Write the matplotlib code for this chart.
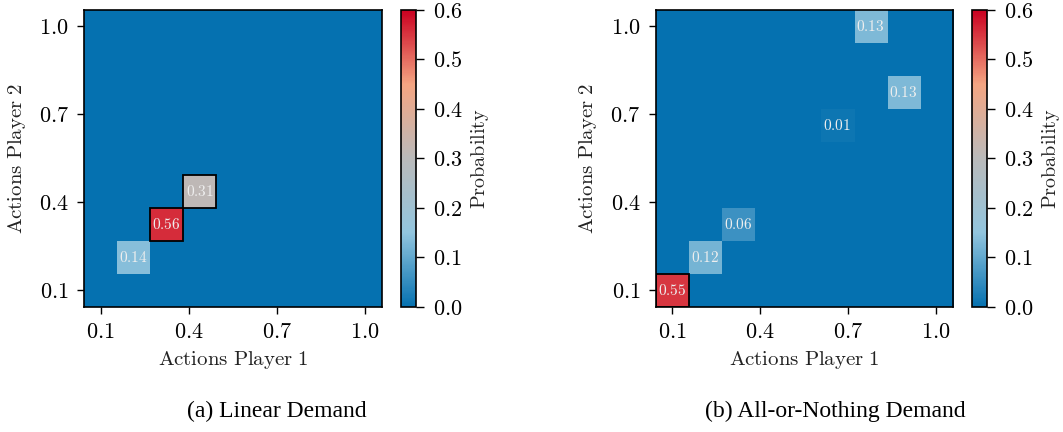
import matplotlib
matplotlib.use("Agg")
import matplotlib.pyplot as plt
import numpy as np
from matplotlib.colors import LinearSegmentedColormap
from matplotlib.patches import Rectangle

# grid of actions per player (9 levels), ticks shown at 4 positions
n_actions = 9
tick_labels = ["0.1", "0.4", "0.7", "1.0"]
cbar_ticks = [0.0, 0.1, 0.2, 0.3, 0.4, 0.5, 0.6]

# (a) linear demand: non-zero cells
lin_p1 = [1, 2, 3]
lin_p2 = [1, 2, 3]
lin_prob = [0.14, 0.56, 0.31]
lin_boxed = [False, True, True]

# (b) all-or-nothing demand
aon_p1 = [0, 1, 2, 5, 7, 6]
aon_p2 = [0, 1, 2, 5, 6, 8]
aon_prob = [0.55, 0.12, 0.06, 0.01, 0.13, 0.13]
aon_boxed = [True, False, False, False, False, False]

captions = ["(a) Linear Demand", "(b) All-or-Nothing Demand"]

plt.rcParams['mathtext.fontset'] = 'cm'

def cm(s):
    return r"$\mathrm{" + s.replace(" ", r"\ ") + "}$"

cmap = LinearSegmentedColormap.from_list(
    "prob", ["#0571b0", "#92c5de", "#bababa", "#f4a582", "#ca0020"])

fig = plt.figure(figsize=(10.63, 4.32), dpi=100)

panels = [
    (lin_p1, lin_p2, lin_prob, lin_boxed, [0.079, 0.2894, 0.280, 0.6875], [0.3772, 0.2894, 0.0141, 0.6875]),
    (aon_p1, aon_p2, aon_prob, aon_boxed, [0.6168, 0.2894, 0.2794, 0.6875], [0.9147, 0.2894, 0.0138, 0.6875]),
]

tick_pos = np.linspace(0, n_actions - 1, len(tick_labels))

for k, (p1, p2, prob, boxed, axpos, cbpos) in enumerate(panels):
    mat = np.zeros((n_actions, n_actions))
    for c, r, v in zip(p1, p2, prob):
        mat[r, c] = v

    ax = fig.add_axes(axpos)
    im = ax.imshow(mat, cmap=cmap, vmin=0, vmax=0.6, origin='lower', aspect='auto')
    for c, r, v, b in zip(p1, p2, prob, boxed):
        ax.text(c, r, cm("%.2f" % v), ha='center', va='center', fontsize=11, color='#eeeeee')
        if b:
            ax.add_patch(Rectangle((c - 0.5, r - 0.5), 1, 1, fill=False, ec='black', lw=1.3))

    ax.set_xticks(tick_pos)
    ax.set_xticklabels([cm(t) for t in tick_labels])
    ax.set_yticks(tick_pos)
    ax.set_yticklabels([cm(t) for t in tick_labels])
    ax.tick_params(labelsize=16, length=5, width=1.0, pad=6)
    ax.set_xlabel(cm("Actions Player 1"), fontsize=15, color='#222222', labelpad=5)
    ax.set_ylabel(cm("Actions Player 2"), fontsize=15, color='#222222', labelpad=8)
    for s in ax.spines.values():
        s.set_linewidth(1.2)

    cax = fig.add_axes(cbpos)
    cb = fig.colorbar(im, cax=cax, ticks=cbar_ticks)
    cb.ax.set_yticklabels([cm("%.1f" % t) for t in cbar_ticks])
    cb.ax.tick_params(labelsize=16, length=6, width=1.0, pad=6)
    cb.outline.set_linewidth(1.2)
    cb.set_label(cm("Probability"), fontsize=14.5, color='#222222', labelpad=5)

    fig.text([0.2605, 0.786][k], 0.048, captions[k], ha='center', va='center',
             fontsize=17, family='Liberation Serif')

fig.savefig("out.png", dpi=100)
